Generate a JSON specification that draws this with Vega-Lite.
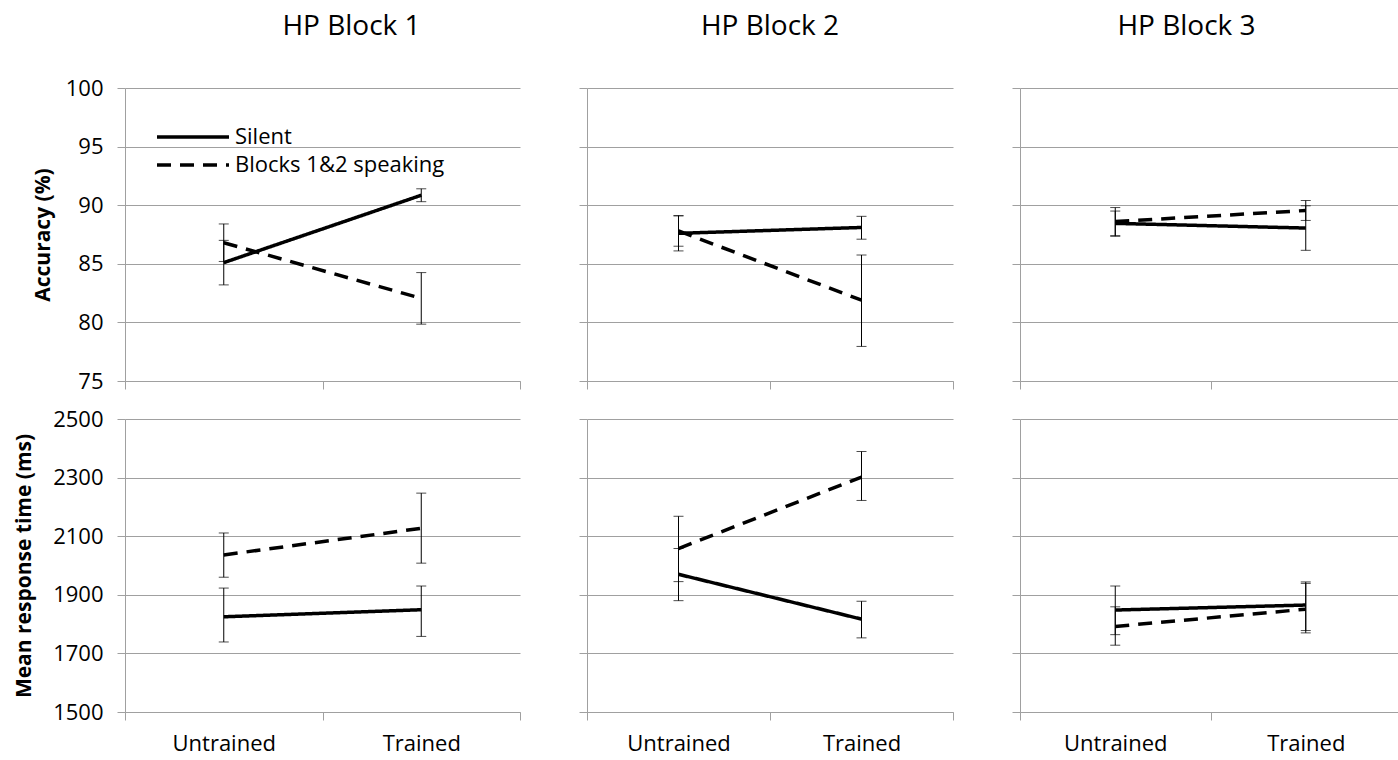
{
  "$schema": "https://vega.github.io/schema/vega-lite/v6.json",
  "padding": {"left": 13, "top": 12, "right": 0, "bottom": 0},
  "background": "white",
  "datasets": {
    "d": [
      {"block": 1, "measure": "acc", "condition": "Silent", "training": "Untrained", "mean": 85.1, "lo": 83.2, "hi": 87.0},
      {"block": 1, "measure": "acc", "condition": "Blocks 1&2 speaking", "training": "Untrained", "mean": 86.8, "lo": 85.2, "hi": 88.4},
      {"block": 1, "measure": "acc", "condition": "Silent", "training": "Trained", "mean": 90.85, "lo": 90.3, "hi": 91.4},
      {"block": 1, "measure": "acc", "condition": "Blocks 1&2 speaking", "training": "Trained", "mean": 82.05, "lo": 79.85, "hi": 84.25},
      {"block": 2, "measure": "acc", "condition": "Silent", "training": "Untrained", "mean": 87.6, "lo": 86.1, "hi": 89.1},
      {"block": 2, "measure": "acc", "condition": "Blocks 1&2 speaking", "training": "Untrained", "mean": 87.8, "lo": 86.5, "hi": 89.1},
      {"block": 2, "measure": "acc", "condition": "Silent", "training": "Trained", "mean": 88.1, "lo": 87.1, "hi": 89.05},
      {"block": 2, "measure": "acc", "condition": "Blocks 1&2 speaking", "training": "Trained", "mean": 81.9, "lo": 77.95, "hi": 85.75},
      {"block": 3, "measure": "acc", "condition": "Silent", "training": "Untrained", "mean": 88.45, "lo": 87.35, "hi": 89.5},
      {"block": 3, "measure": "acc", "condition": "Blocks 1&2 speaking", "training": "Untrained", "mean": 88.6, "lo": 87.4, "hi": 89.8},
      {"block": 3, "measure": "acc", "condition": "Silent", "training": "Trained", "mean": 88.05, "lo": 86.15, "hi": 89.95},
      {"block": 3, "measure": "acc", "condition": "Blocks 1&2 speaking", "training": "Trained", "mean": 89.55, "lo": 88.7, "hi": 90.4},
      {"block": 1, "measure": "rt", "condition": "Silent", "training": "Untrained", "mean": 1825, "lo": 1739, "hi": 1923},
      {"block": 1, "measure": "rt", "condition": "Blocks 1&2 speaking", "training": "Untrained", "mean": 2036, "lo": 1960, "hi": 2111},
      {"block": 1, "measure": "rt", "condition": "Silent", "training": "Trained", "mean": 1849, "lo": 1758, "hi": 1930},
      {"block": 1, "measure": "rt", "condition": "Blocks 1&2 speaking", "training": "Trained", "mean": 2127, "lo": 2008, "hi": 2247},
      {"block": 2, "measure": "rt", "condition": "Silent", "training": "Untrained", "mean": 1970, "lo": 1880, "hi": 2058},
      {"block": 2, "measure": "rt", "condition": "Blocks 1&2 speaking", "training": "Untrained", "mean": 2058, "lo": 1945, "hi": 2168},
      {"block": 2, "measure": "rt", "condition": "Silent", "training": "Trained", "mean": 1817, "lo": 1753, "hi": 1878},
      {"block": 2, "measure": "rt", "condition": "Blocks 1&2 speaking", "training": "Trained", "mean": 2302, "lo": 2222, "hi": 2389},
      {"block": 3, "measure": "rt", "condition": "Silent", "training": "Untrained", "mean": 1848, "lo": 1764, "hi": 1930},
      {"block": 3, "measure": "rt", "condition": "Blocks 1&2 speaking", "training": "Untrained", "mean": 1792, "lo": 1728, "hi": 1859},
      {"block": 3, "measure": "rt", "condition": "Silent", "training": "Trained", "mean": 1865, "lo": 1778, "hi": 1944},
      {"block": 3, "measure": "rt", "condition": "Blocks 1&2 speaking", "training": "Trained", "mean": 1851, "lo": 1770, "hi": 1939}
    ]
  },
  "data": {"name": "d"},
  "columns": 3,
  "spacing": {"column": 57, "row": 16},
  "resolve": {"scale": {"x": "independent", "y": "independent", "strokeDash": "shared"}, "legend": {"strokeDash": "independent"}},
  "concat": [
    {
      "width": 395, "height": 293,
      "title": {"text": "HP Block 1", "dx": 29, "offset": 36},
      "transform": [{"filter": "datum.block == 1 && datum.measure == 'acc'"}],
      "encoding": {"x": {"field": "training", "type": "nominal", "sort": ["Untrained", "Trained"], "scale": {"paddingInner": 0, "paddingOuter": 0}, "axis": {"labels": false}}},
      "layer": [
        {"mark": {"type": "rule", "color": "black", "strokeWidth": 1}, "encoding": {"y": {"field": "lo", "type": "quantitative", "scale": {"domain": [75, 100], "nice": false, "zero": false}, "axis": {"values": [75, 80, 85, 90, 95, 100], "format": "d", "title": "Accuracy (%)"}}, "y2": {"field": "hi"}}},
        {"mark": {"type": "tick", "orient": "horizontal", "color": "black", "size": 10, "thickness": 1}, "encoding": {"y": {"field": "lo", "type": "quantitative", "scale": {"domain": [75, 100], "nice": false, "zero": false}, "axis": {"values": [75, 80, 85, 90, 95, 100], "format": "d", "title": "Accuracy (%)"}}}},
        {"mark": {"type": "tick", "orient": "horizontal", "color": "black", "size": 10, "thickness": 1}, "encoding": {"y": {"field": "hi", "type": "quantitative", "scale": {"domain": [75, 100], "nice": false, "zero": false}, "axis": {"values": [75, 80, 85, 90, 95, 100], "format": "d", "title": "Accuracy (%)"}}}},
        {"mark": {"type": "line", "color": "black", "strokeWidth": 3.5}, "encoding": {
          "y": {"field": "mean", "type": "quantitative", "scale": {"domain": [75, 100], "nice": false, "zero": false}, "axis": {"values": [75, 80, 85, 90, 95, 100], "format": "d", "title": "Accuracy (%)"}},
          "strokeDash": {"field": "condition", "type": "nominal", "scale": {"domain": ["Silent", "Blocks 1&2 speaking"], "range": [[1, 0], [14, 9]]},
            "legend": {"orient": "none", "legendX": 30, "legendY": 35, "title": null, "symbolType": "M-1,0H5", "symbolSize": 576, "symbolStrokeWidth": 3.5, "symbolStrokeColor": "black", "symbolFillColor": "transparent", "labelFontSize": 22, "labelOffset": 52, "labelLimit": 500, "rowPadding": 3, "labelColor": "black", "padding": 0}}
        }}
      ]
    },
    {
      "width": 366, "height": 293,
      "title": {"text": "HP Block 2", "dx": 0, "offset": 47},
      "transform": [{"filter": "datum.block == 2 && datum.measure == 'acc'"}],
      "encoding": {"x": {"field": "training", "type": "nominal", "sort": ["Untrained", "Trained"], "scale": {"paddingInner": 0, "paddingOuter": 0}, "axis": {"labels": false}}},
      "layer": [
        {"mark": {"type": "rule", "color": "black", "strokeWidth": 1}, "encoding": {"y": {"field": "lo", "type": "quantitative", "scale": {"domain": [75, 100], "nice": false, "zero": false}, "axis": {"values": [75, 80, 85, 90, 95, 100], "labels": false, "title": null}}, "y2": {"field": "hi"}}},
        {"mark": {"type": "tick", "orient": "horizontal", "color": "black", "size": 10, "thickness": 1}, "encoding": {"y": {"field": "lo", "type": "quantitative", "scale": {"domain": [75, 100], "nice": false, "zero": false}, "axis": {"values": [75, 80, 85, 90, 95, 100], "labels": false, "title": null}}}},
        {"mark": {"type": "tick", "orient": "horizontal", "color": "black", "size": 10, "thickness": 1}, "encoding": {"y": {"field": "hi", "type": "quantitative", "scale": {"domain": [75, 100], "nice": false, "zero": false}, "axis": {"values": [75, 80, 85, 90, 95, 100], "labels": false, "title": null}}}},
        {"mark": {"type": "line", "color": "black", "strokeWidth": 3.5}, "encoding": {
          "y": {"field": "mean", "type": "quantitative", "scale": {"domain": [75, 100], "nice": false, "zero": false}, "axis": {"values": [75, 80, 85, 90, 95, 100], "labels": false, "title": null}},
          "strokeDash": {"field": "condition", "type": "nominal", "scale": {"domain": ["Silent", "Blocks 1&2 speaking"], "range": [[1, 0], [14, 9]]}, "legend": null}
        }}
      ]
    },
    {
      "width": 381, "height": 293,
      "title": {"text": "HP Block 3", "dx": -24, "offset": 47},
      "transform": [{"filter": "datum.block == 3 && datum.measure == 'acc'"}],
      "encoding": {"x": {"field": "training", "type": "nominal", "sort": ["Untrained", "Trained"], "scale": {"paddingInner": 0, "paddingOuter": 0}, "axis": {"labels": false}}},
      "layer": [
        {"mark": {"type": "rule", "color": "black", "strokeWidth": 1}, "encoding": {"y": {"field": "lo", "type": "quantitative", "scale": {"domain": [75, 100], "nice": false, "zero": false}, "axis": {"values": [75, 80, 85, 90, 95, 100], "labels": false, "title": null}}, "y2": {"field": "hi"}}},
        {"mark": {"type": "tick", "orient": "horizontal", "color": "black", "size": 10, "thickness": 1}, "encoding": {"y": {"field": "lo", "type": "quantitative", "scale": {"domain": [75, 100], "nice": false, "zero": false}, "axis": {"values": [75, 80, 85, 90, 95, 100], "labels": false, "title": null}}}},
        {"mark": {"type": "tick", "orient": "horizontal", "color": "black", "size": 10, "thickness": 1}, "encoding": {"y": {"field": "hi", "type": "quantitative", "scale": {"domain": [75, 100], "nice": false, "zero": false}, "axis": {"values": [75, 80, 85, 90, 95, 100], "labels": false, "title": null}}}},
        {"mark": {"type": "line", "color": "black", "strokeWidth": 3.5}, "encoding": {
          "y": {"field": "mean", "type": "quantitative", "scale": {"domain": [75, 100], "nice": false, "zero": false}, "axis": {"values": [75, 80, 85, 90, 95, 100], "labels": false, "title": null}},
          "strokeDash": {"field": "condition", "type": "nominal", "scale": {"domain": ["Silent", "Blocks 1&2 speaking"], "range": [[1, 0], [14, 9]]}, "legend": null}
        }}
      ]
    },
    {
      "width": 395, "height": 293,
      "transform": [{"filter": "datum.block == 1 && datum.measure == 'rt'"}],
      "encoding": {"x": {"field": "training", "type": "nominal", "sort": ["Untrained", "Trained"], "scale": {"paddingInner": 0, "paddingOuter": 0}, "axis": {"labels": true}}},
      "layer": [
        {"mark": {"type": "rule", "color": "black", "strokeWidth": 1}, "encoding": {"y": {"field": "lo", "type": "quantitative", "scale": {"domain": [1500, 2500], "nice": false, "zero": false}, "axis": {"values": [1500, 1700, 1900, 2100, 2300, 2500], "format": "d", "titlePadding": 18, "title": "Mean response time (ms)"}}, "y2": {"field": "hi"}}},
        {"mark": {"type": "tick", "orient": "horizontal", "color": "black", "size": 10, "thickness": 1}, "encoding": {"y": {"field": "lo", "type": "quantitative", "scale": {"domain": [1500, 2500], "nice": false, "zero": false}, "axis": {"values": [1500, 1700, 1900, 2100, 2300, 2500], "format": "d", "titlePadding": 18, "title": "Mean response time (ms)"}}}},
        {"mark": {"type": "tick", "orient": "horizontal", "color": "black", "size": 10, "thickness": 1}, "encoding": {"y": {"field": "hi", "type": "quantitative", "scale": {"domain": [1500, 2500], "nice": false, "zero": false}, "axis": {"values": [1500, 1700, 1900, 2100, 2300, 2500], "format": "d", "titlePadding": 18, "title": "Mean response time (ms)"}}}},
        {"mark": {"type": "line", "color": "black", "strokeWidth": 3.5}, "encoding": {
          "y": {"field": "mean", "type": "quantitative", "scale": {"domain": [1500, 2500], "nice": false, "zero": false}, "axis": {"values": [1500, 1700, 1900, 2100, 2300, 2500], "format": "d", "titlePadding": 18, "title": "Mean response time (ms)"}},
          "strokeDash": {"field": "condition", "type": "nominal", "scale": {"domain": ["Silent", "Blocks 1&2 speaking"], "range": [[1, 0], [14, 9]]}, "legend": null}
        }}
      ]
    },
    {
      "width": 366, "height": 293,
      "transform": [{"filter": "datum.block == 2 && datum.measure == 'rt'"}],
      "encoding": {"x": {"field": "training", "type": "nominal", "sort": ["Untrained", "Trained"], "scale": {"paddingInner": 0, "paddingOuter": 0}, "axis": {"labels": true}}},
      "layer": [
        {"mark": {"type": "rule", "color": "black", "strokeWidth": 1}, "encoding": {"y": {"field": "lo", "type": "quantitative", "scale": {"domain": [1500, 2500], "nice": false, "zero": false}, "axis": {"values": [1500, 1700, 1900, 2100, 2300, 2500], "labels": false, "title": null}}, "y2": {"field": "hi"}}},
        {"mark": {"type": "tick", "orient": "horizontal", "color": "black", "size": 10, "thickness": 1}, "encoding": {"y": {"field": "lo", "type": "quantitative", "scale": {"domain": [1500, 2500], "nice": false, "zero": false}, "axis": {"values": [1500, 1700, 1900, 2100, 2300, 2500], "labels": false, "title": null}}}},
        {"mark": {"type": "tick", "orient": "horizontal", "color": "black", "size": 10, "thickness": 1}, "encoding": {"y": {"field": "hi", "type": "quantitative", "scale": {"domain": [1500, 2500], "nice": false, "zero": false}, "axis": {"values": [1500, 1700, 1900, 2100, 2300, 2500], "labels": false, "title": null}}}},
        {"mark": {"type": "line", "color": "black", "strokeWidth": 3.5}, "encoding": {
          "y": {"field": "mean", "type": "quantitative", "scale": {"domain": [1500, 2500], "nice": false, "zero": false}, "axis": {"values": [1500, 1700, 1900, 2100, 2300, 2500], "labels": false, "title": null}},
          "strokeDash": {"field": "condition", "type": "nominal", "scale": {"domain": ["Silent", "Blocks 1&2 speaking"], "range": [[1, 0], [14, 9]]}, "legend": null}
        }}
      ]
    },
    {
      "width": 381, "height": 293,
      "transform": [{"filter": "datum.block == 3 && datum.measure == 'rt'"}],
      "encoding": {"x": {"field": "training", "type": "nominal", "sort": ["Untrained", "Trained"], "scale": {"paddingInner": 0, "paddingOuter": 0}, "axis": {"labels": true}}},
      "layer": [
        {"mark": {"type": "rule", "color": "black", "strokeWidth": 1}, "encoding": {"y": {"field": "lo", "type": "quantitative", "scale": {"domain": [1500, 2500], "nice": false, "zero": false}, "axis": {"values": [1500, 1700, 1900, 2100, 2300, 2500], "labels": false, "title": null}}, "y2": {"field": "hi"}}},
        {"mark": {"type": "tick", "orient": "horizontal", "color": "black", "size": 10, "thickness": 1}, "encoding": {"y": {"field": "lo", "type": "quantitative", "scale": {"domain": [1500, 2500], "nice": false, "zero": false}, "axis": {"values": [1500, 1700, 1900, 2100, 2300, 2500], "labels": false, "title": null}}}},
        {"mark": {"type": "tick", "orient": "horizontal", "color": "black", "size": 10, "thickness": 1}, "encoding": {"y": {"field": "hi", "type": "quantitative", "scale": {"domain": [1500, 2500], "nice": false, "zero": false}, "axis": {"values": [1500, 1700, 1900, 2100, 2300, 2500], "labels": false, "title": null}}}},
        {"mark": {"type": "line", "color": "black", "strokeWidth": 3.5}, "encoding": {
          "y": {"field": "mean", "type": "quantitative", "scale": {"domain": [1500, 2500], "nice": false, "zero": false}, "axis": {"values": [1500, 1700, 1900, 2100, 2300, 2500], "labels": false, "title": null}},
          "strokeDash": {"field": "condition", "type": "nominal", "scale": {"domain": ["Silent", "Blocks 1&2 speaking"], "range": [[1, 0], [14, 9]]}, "legend": null}
        }}
      ]
    }
  ],
  "config": {
    "font": "Open Sans",
    "view": {"stroke": null},
    "axis": {"domainColor": "#a0a0a0", "tickColor": "#a0a0a0", "gridColor": "#a0a0a0", "tickSize": 8, "labelFontSize": 22, "labelColor": "black", "titleFontSize": 21, "titleFontWeight": "bold", "titleColor": "black", "domainWidth": 1, "tickWidth": 1, "gridWidth": 1},
    "axisX": {"grid": false, "tickBand": "extent", "labelAngle": 0, "title": null, "labelPadding": 13},
    "axisY": {"grid": true, "labelPadding": 14, "titlePadding": 12},
    "title": {"fontSize": 28, "fontWeight": "normal", "color": "black", "frame": "group", "anchor": "middle"}
  }
}
